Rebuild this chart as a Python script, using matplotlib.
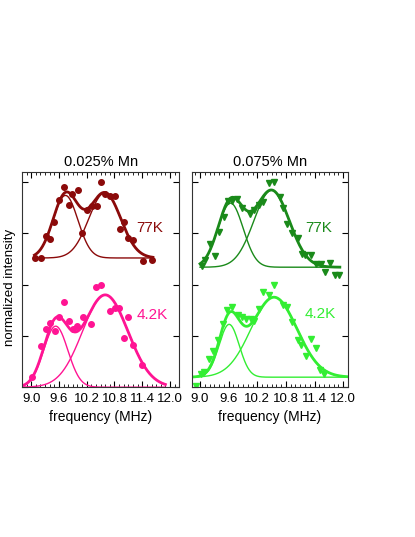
import numpy as np
import matplotlib.pyplot as plt
from matplotlib.ticker import MultipleLocator, NullFormatter

plt.rcParams['font.family'] = ['Liberation Sans', 'DejaVu Sans']

# ---- data ----
# 0.025% Mn, 77K
f_a77 = [9.09, 9.21, 9.32, 9.41, 9.50, 9.61, 9.70, 9.81, 9.89, 10.01, 10.10, 10.20,
         10.31, 10.42, 10.50, 10.60, 10.71, 10.81, 10.91, 11.00, 11.09, 11.21, 11.41, 11.60]
y_a77 = [2.52, 2.52, 2.94, 2.89, 3.22, 3.65, 3.90, 3.55, 3.76, 3.85, 3.00, 3.45,
         3.54, 3.53, 4.01, 3.76, 3.73, 3.73, 3.08, 3.23, 2.91, 2.87, 2.46, 2.48]
# 0.025% Mn, 4.2K
f_a4 = [9.02, 9.21, 9.31, 9.40, 9.51, 9.60, 9.71, 9.81, 9.91, 10.00, 10.12, 10.30,
        10.41, 10.50, 10.70, 10.81, 10.90, 11.00, 11.10, 11.20, 11.40]
y_a4 = [0.20, 0.80, 1.14, 1.26, 1.10, 1.37, 1.67, 1.29, 1.14, 1.19, 1.37, 1.24,
        1.96, 1.99, 1.48, 1.55, 1.55, 0.95, 1.37, 0.83, 0.44]
# 0.075% Mn, 77K
f_b77 = [9.04, 9.10, 9.21, 9.31, 9.40, 9.50, 9.59, 9.67, 9.77, 9.88, 10.05, 10.13,
         10.24, 10.31, 10.44, 10.56, 10.67, 10.74, 10.83, 10.93, 11.05, 11.14, 11.21,
         11.32, 11.43, 11.53, 11.62, 11.72, 11.82, 11.91]
y_b77 = [2.37, 2.48, 2.80, 2.55, 3.03, 3.32, 3.64, 3.64, 3.67, 3.50, 3.38, 3.45,
         3.56, 3.62, 3.98, 4.00, 3.71, 3.50, 3.18, 3.01, 2.91, 2.60, 2.58,
         2.58, 2.40, 2.41, 2.25, 2.43, 2.18, 2.18]
# 0.075% Mn, 4.2K
f_b4 = [8.91, 9.01, 9.08, 9.18, 9.28, 9.38, 9.48, 9.57, 9.68, 9.79, 9.87, 9.96, 10.06,
        10.14, 10.23, 10.33, 10.44, 10.56, 10.73, 10.82, 10.93, 11.05, 11.11, 11.23,
        11.32, 11.43, 11.51, 11.60]
y_b4 = [0.03, 0.26, 0.30, 0.55, 0.71, 0.92, 1.24, 1.50, 1.57, 1.41, 1.37, 1.33, 1.33,
        1.29, 1.52, 1.85, 1.80, 2.00, 1.61, 1.56, 1.27, 0.92, 0.83, 0.60,
        0.94, 0.76, 0.34, 0.26]

# two-gaussian fit parameters: offset, (amp, centre, sigma) x 2, fit range
fit_a77 = dict(base=2.52, p1=(1.22, 9.74, 0.27), p2=(1.27, 10.59, 0.345), rng=(9.07, 11.63))
fit_a4 = dict(base=0.0, p1=(1.19, 9.53, 0.262), p2=(1.80, 10.60, 0.49), rng=(8.80, 11.90))
fit_b77 = dict(base=2.34, p1=(1.25, 9.64, 0.264), p2=(1.50, 10.50, 0.37), rng=(9.00, 11.93))
fit_b4 = dict(base=0.195, p1=(1.03, 9.61, 0.211), p2=(1.56, 10.55, 0.48), rng=(8.83, 12.10))

c_red, c_pink = '#8b0a0a', '#ff1493'
c_dgreen, c_lgreen = '#1a8a1a', '#33ee33'


def gauss(x, a, m, s):
    return a * np.exp(-(x - m) ** 2 / (2 * s ** 2))


def draw_fit(ax, fit, color):
    x = np.linspace(fit['rng'][0], fit['rng'][1], 300)
    g1 = gauss(x, *fit['p1'])
    g2 = gauss(x, *fit['p2'])
    ax.plot(x, fit['base'] + g1, color=color, lw=1)
    ax.plot(x, fit['base'] + g2, color=color, lw=1)
    ax.plot(x, fit['base'] + g1 + g2, color=color, lw=2)


def style(ax, xlim):
    ax.set_xlim(*xlim)
    ax.set_ylim(0, 4.2)
    ax.xaxis.set_major_locator(MultipleLocator(0.6))
    ax.xaxis.set_minor_locator(MultipleLocator(0.1))
    ax.yaxis.set_major_locator(MultipleLocator(1))
    ax.yaxis.set_major_formatter(NullFormatter())
    ax.tick_params(which='both', direction='in', top=True, right=True, labelsize=9.5)
    ax.tick_params(which='major', length=4, width=0.8)
    ax.tick_params(which='minor', length=2, width=0.6)
    ax.tick_params(axis='x', pad=4)
    for sp in ax.spines.values():
        sp.set_color('#333333')
        sp.set_linewidth(0.8)
    ax.set_xlabel('frequency (MHz)', fontsize=10)


fig = plt.figure(figsize=(4.15, 5.37), dpi=100)
ax1 = fig.add_axes([0.054, 0.279, 0.378, 0.401])
ax2 = fig.add_axes([0.462, 0.279, 0.377, 0.401])

# left panel
ax1.plot(f_a77, y_a77, 'o', color=c_red, ms=4)
draw_fit(ax1, fit_a77, c_red)
ax1.plot(f_a4, y_a4, 'o', color=c_pink, ms=4)
draw_fit(ax1, fit_a4, c_pink)
ax1.text(11.27, 3.11, '77K', color=c_red, fontsize=11, va='center')
ax1.text(11.27, 1.41, '4.2K', color=c_pink, fontsize=11, va='center')
ax1.set_title('0.025% Mn', fontsize=10.5, pad=4)
style(ax1, (8.81, 12.2))

# right panel
ax2.plot(f_b77, y_b77, 'v', color=c_dgreen, ms=4.5)
draw_fit(ax2, fit_b77, c_dgreen)
ax2.plot(f_b4, y_b4, 'v', color=c_lgreen, ms=4.5)
draw_fit(ax2, fit_b4, c_lgreen)
ax2.text(11.2, 3.10, '77K', color=c_dgreen, fontsize=11, va='center')
ax2.text(11.2, 1.43, '4.2K', color=c_lgreen, fontsize=11, va='center')
ax2.set_title('0.075% Mn', fontsize=10.5, pad=4)
style(ax2, (8.826, 12.105))

fig.text(0.024, 0.464, 'normalized intensity', rotation=90, fontsize=9.5,
         ha='center', va='center')

fig.savefig('out.png', dpi=100)
